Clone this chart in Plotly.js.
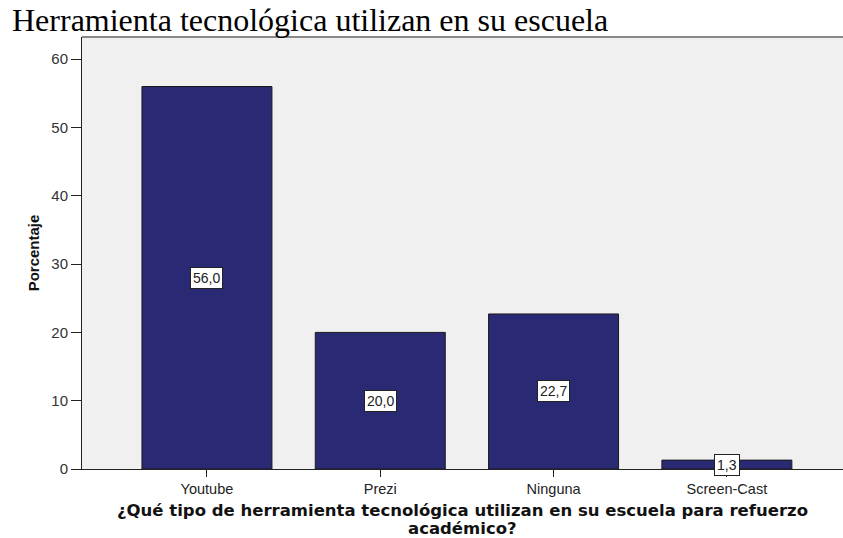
<!DOCTYPE html>
<html>
<head>
<meta charset="utf-8">
<script src="https://cdn.plot.ly/plotly-3.0.1.min.js"></script>
<style>html,body{margin:0;padding:0;background:#fff;}#chart{width:843px;height:538px;}</style>
</head>
<body>
<div id="chart"></div>
<script>
const categories = ["Youtube", "Prezi", "Ninguna", "Screen-Cast"];
const percentages = [56.0, 20.0, 22.7, 1.3];
const valueLabels = ["56,0", "20,0", "22,7", "1,3"];
const yTicks = [0, 10, 20, 30, 40, 50, 60];
const xTitleLine1 = "¿Qué tipo de herramienta tecnológica utilizan en su escuela para refuerzo";
const xTitleLine2 = "académico?";

const trace = {
  type: "bar",
  x: categories,
  y: percentages,
  width: 0.75,
  marker: { color: "#2a2973", line: { color: "#1a1a1a", width: 1 } },
  hoverinfo: "skip"
};

const labelAnnotations = categories.map((c, i) => ({
  x: c, y: percentages[i] / 2, xref: "x", yref: "y",
  text: valueLabels[i], showarrow: false,
  font: { family: "Liberation Sans, Arial, sans-serif", size: 14, color: "#222" },
  bgcolor: "#ffffff", bordercolor: "#222", borderwidth: 1, borderpad: 2,
  xanchor: "center", yanchor: "middle"
}));

const xTitleFont = { family: "DejaVu Sans, Verdana, sans-serif", size: 16.5, color: "#111", weight: "bold" };

const layout = {
  width: 843, height: 538,
  margin: { l: 82, r: 0, t: 37, b: 69, pad: 0 },
  paper_bgcolor: "#ffffff",
  plot_bgcolor: "#f0f0f0",
  showlegend: false,
  title: {
    text: "Herramienta tecnológica utilizan en su escuela",
    font: { family: "Liberation Serif, Times New Roman, serif", size: 32, color: "#000" },
    x: 12 / 843, xref: "container", xanchor: "left",
    y: 1 - 9 / 538, yref: "container", yanchor: "top"
  },
  xaxis: {
    type: "category",
    range: [-0.721, 3.67],
    showline: true, linecolor: "#222", linewidth: 1,
    ticks: "outside", ticklen: 7, tickcolor: "#222", tickwidth: 1,
    showgrid: false, zeroline: false,
    tickfont: { family: "Liberation Sans, Arial, sans-serif", size: 14.5, color: "#222" },
    title: { text: xTitleLine1, font: xTitleFont, standoff: 8 }
  },
  yaxis: {
    range: [0, 63.25],
    tickvals: yTicks,
    showline: true, linecolor: "#222", linewidth: 1,
    ticks: "outside", ticklen: 10, tickcolor: "#222", tickwidth: 1,
    showgrid: false, zeroline: false,
    tickfont: { family: "Liberation Sans, Arial, sans-serif", size: 15, color: "#333" },
    title: {
      text: "<b>Porcentaje</b>",
      font: { family: "Liberation Sans, Arial, sans-serif", size: 15, color: "#111" },
      standoff: 8
    }
  },
  shapes: [{
    type: "line", xref: "paper", yref: "paper", x0: 0, x1: 1, y0: 1, y1: 1,
    line: { color: "#888888", width: 2 }
  }],
  annotations: labelAnnotations.concat([{
    text: xTitleLine2, xref: "paper", yref: "paper", x: 0.5, y: -0.137,
    xanchor: "center", yanchor: "middle", showarrow: false, font: xTitleFont
  }])
};

Plotly.newPlot("chart", [trace], layout, { displayModeBar: false, staticPlot: true });
</script>
</body>
</html>
